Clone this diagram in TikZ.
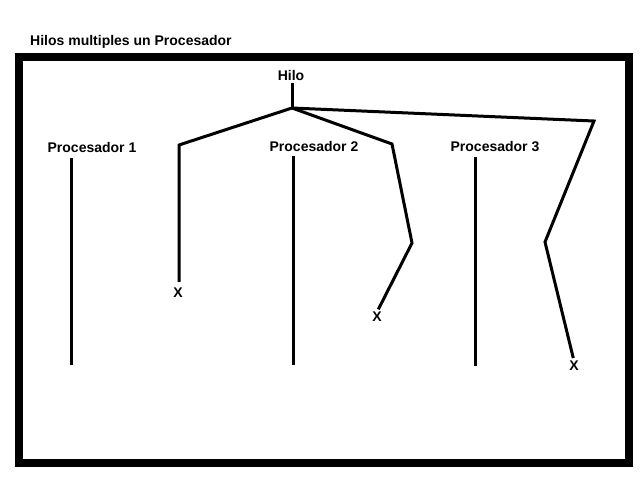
\documentclass[tikz,border=0pt]{standalone}
\usepackage{fontspec}
\setmainfont{Liberation Sans}
\usetikzlibrary{positioning}

\begin{document}
\begin{tikzpicture}[x=1pt,y=-1pt,
    lbl/.style={font=\bfseries\fontsize{14}{16}\selectfont, inner sep=0pt},
    hebra/.style={line width=3pt, line join=miter},
    marco/.style={line width=8pt}]

  \useasboundingbox (0,0) rectangle (640,480);

  % Frame and title
  \draw[marco] (19,57) rectangle (629,463);
  \node[lbl, anchor=west] (titulo) at (30,42) {Hilos multiples un Procesador};

  % Processors
  \node[lbl] (p1) at (92,147) {Procesador 1};
  \node[lbl] (p2) at (314,146) {Procesador 2};
  \node[lbl] (p3) at (495,147) {Procesador 3};

  \coordinate (p1a) at (71,158);  \coordinate (p1b) at (71,365);
  \coordinate (p2a) at (293,156); \coordinate (p2b) at (293,365);
  \coordinate (p3a) at (475,157); \coordinate (p3b) at (475,366);

  \draw[hebra] (p1a) -- (p1b);
  \draw[hebra] (p2a) -- (p2b);
  \draw[hebra] (p3a) -- (p3b);

  % Thread
  \node[lbl] (hilo) at (291,75) {Hilo};
  \coordinate (raiz) at (292,108);
  \draw[hebra, shorten <=3pt] (hilo.south -| raiz) -- (raiz);

  % Branches
  \node[lbl] (x1) at (178,293) {X};
  \node[lbl] (x2) at (377,317) {X};
  \node[lbl] (x3) at (574,366) {X};

  \coordinate (b1) at (179,145);
  \coordinate (b2) at (392,144);
  \coordinate (c2) at (412,243);
  \coordinate (b3) at (594,121);
  \coordinate (c3) at (545,242);

  \draw[hebra, shorten >=6pt] (raiz) -- (b1) -- (x1.north -| b1);
  \draw[hebra, shorten >=3pt] (raiz) -- (b2) -- (c2) -- (x2.north);
  \draw[hebra, shorten >=3pt] (raiz) -- (b3) -- (c3) -- (x3.north);

\end{tikzpicture}
\end{document}
